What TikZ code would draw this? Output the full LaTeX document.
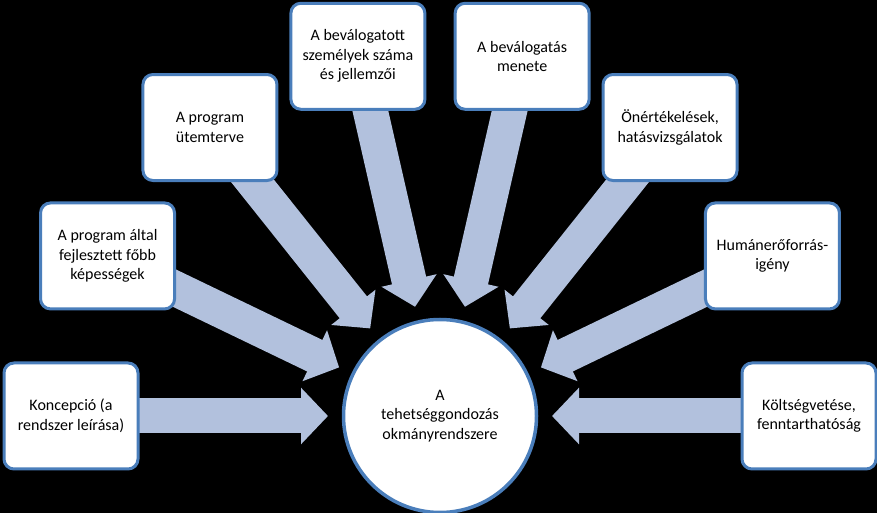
\documentclass[tikz,border=0pt]{standalone}
\usepackage{fontspec}
\setmainfont{Carlito}
\usepackage{xcolor}
\usepackage{tikz}
\usetikzlibrary{arrows.meta,calc,backgrounds}

\definecolor{boxblue}{HTML}{4A7EBB}
\definecolor{arrowblue}{HTML}{B2C1DD}
\tikzset{
  kbox/.style={draw=boxblue,line width=3pt,fill=white,rounded corners=10pt,
    minimum width=134pt,minimum height=106pt,align=center,inner sep=2pt},
  hubnode/.style={draw=boxblue,line width=3.5pt,fill=white,circle,
    minimum size=193pt,align=center,inner sep=2pt},
  bigarrow/.style={draw=arrowblue,line width=35pt,
    -{Triangle[width=55pt,length=27pt]}}
}

\begin{document}
\begin{tikzpicture}[x=1pt,y=1pt,font=\fontsize{16}{19.5}\selectfont]
\useasboundingbox (0,0) rectangle (877,513);
\node[hubnode] (hub) at (440,97) {A\\tehetséggondozás\\okmányrendszere};
\node[kbox] (k1) at ($(hub)+(180:369)$) {Koncepció (a\\rendszer leírása)};
\node[kbox] (k2) at ($(hub)+(154.29:369)$) {A program által\\fejlesztett főbb\\képességek};
\node[kbox] (k3) at ($(hub)+(128.57:369)$) {A program\\ütemterve};
\node[kbox] (k4) at ($(hub)+(102.86:369)$) {A beválogatott\\személyek száma\\és jellemzői};
\node[kbox] (k5) at ($(hub)+(77.14:369)$) {A beválogatás\\menete};
\node[kbox] (k6) at ($(hub)+(51.43:369)$) {Önértékelések,\\hatásvizsgálatok};
\node[kbox] (k7) at ($(hub)+(25.71:369)$) {Humánerőforrás-\\igény};
\node[kbox] (k8) at ($(hub)+(0:369)$) {Költségvetése,\\fenntarthatóság};
% arrow tips stop short of the circle
\coordinate (t1) at ($(hub)+(180:112)$);
\coordinate (t2) at ($(hub)+(154.29:112)$);
\coordinate (t3) at ($(hub)+(128.57:112)$);
\coordinate (t4) at ($(hub)+(102.86:112)$);
\coordinate (t5) at ($(hub)+(77.14:112)$);
\coordinate (t6) at ($(hub)+(51.43:112)$);
\coordinate (t7) at ($(hub)+(25.71:112)$);
\coordinate (t8) at ($(hub)+(0:112)$);
\begin{scope}[on background layer]
\fill[black] (0,0) rectangle (877,513);
\foreach \i in {1,...,8}
  \draw[bigarrow] (k\i.center) -- (t\i);
\end{scope}
\end{tikzpicture}
\end{document}
